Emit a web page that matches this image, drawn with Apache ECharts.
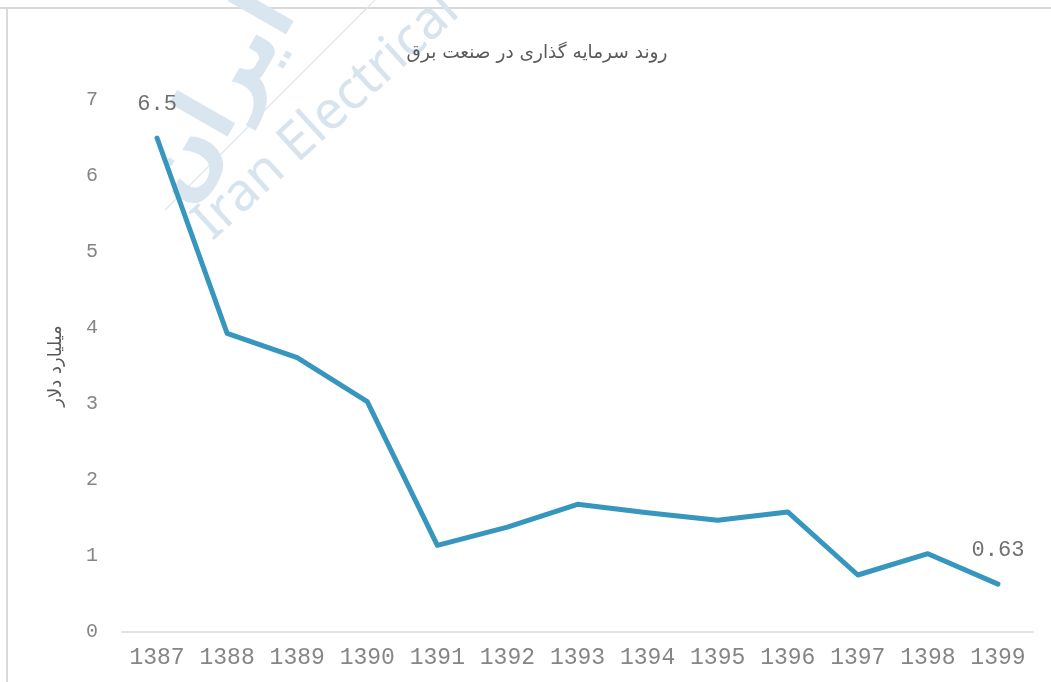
<!DOCTYPE html>
<html>
<head>
<meta charset="utf-8">
<script src="https://cdn.jsdelivr.net/npm/echarts@6/dist/echarts.min.js"></script>
<style>
html,body{margin:0;padding:0;background:#fff;}
#c{width:1051px;height:682px;}
</style>
</head>
<body>
<div id="c"></div>
<script>
const categories = ['1387','1388','1389','1390','1391','1392','1393','1394','1395','1396','1397','1398','1399'];
const values = [6.5, 3.93, 3.61, 3.03, 1.14, 1.38, 1.68, 1.57, 1.47, 1.58, 0.75, 1.03, 0.63];
const labelledIdx = [0, 12];
const titleText = 'روند سرمایه گذاری در صنعت برق';
const yName = 'میلیارد دلار';

const chart = echarts.init(document.getElementById('c'));
const mono = 'Liberation Mono';
const seriesData = values.map((v, i) => ({
  value: v,
  label: { show: labelledIdx.includes(i) }
}));

chart.setOption({
  backgroundColor: '#ffffff',
  animation: false,
  grid: { left: 122, right: 18, top: 100, bottom: 50 },
  xAxis: {
    type: 'category',
    data: categories,
    boundaryGap: true,
    axisLine: { lineStyle: { color: '#d9d9d9', width: 1.5 } },
    axisTick: { show: false },
    axisLabel: { interval: 0, hideOverlap: false, fontFamily: mono, fontSize: 23, color: '#858585', margin: 14 }
  },
  yAxis: {
    type: 'value',
    min: 0, max: 7, interval: 1,
    name: yName,
    nameLocation: 'middle',
    nameGap: 57,
    nameTextStyle: { fontFamily: 'DejaVu Sans', fontSize: 18, color: '#595959' },
    axisLine: { show: false },
    axisTick: { show: false },
    splitLine: { show: false },
    axisLabel: { fontFamily: mono, fontSize: 20, color: '#858585', margin: 24 }
  },
  graphic: [
    { type: 'line', z: -10, shape: { x1: 0, y1: 8, x2: 1051, y2: 8 }, style: { stroke: '#d9d9d9', lineWidth: 2 } },
    { type: 'line', z: -10, shape: { x1: 7, y1: 8, x2: 7, y2: 682 }, style: { stroke: '#d9d9d9', lineWidth: 2 } },
    { type: 'line', z: -10, shape: { x1: 165, y1: 210, x2: 375, y2: 0 }, style: { stroke: '#dce7f0', lineWidth: 1.2 } },
    { type: 'text', z: -10, x: 220, y: 250, rotation: 0.74,
      style: { text: 'Iran Electrical', fontFamily: 'Noto Sans', fontSize: 53, fill: '#d7e4ee', textAlign: 'left', textVerticalAlign: 'bottom' } },
    { type: 'text', z: -10, x: 222, y: 100, rotation: 1.05,
      style: { text: 'ایران', fontFamily: 'DejaVu Sans', fontWeight: 'bold', fontSize: 88, fill: '#d9e5ef', textAlign: 'center', textVerticalAlign: 'middle' } },
    { type: 'text', z: 10, x: 537, y: 53,
      style: { text: titleText, fontFamily: 'DejaVu Sans', fontSize: 18.5, fill: '#595959', textAlign: 'center', textVerticalAlign: 'middle' } }
  ],
  series: [{
    type: 'line',
    data: seriesData,
    symbol: 'circle',
    symbolSize: 1,
    showSymbol: true,
    lineStyle: { color: '#3796be', width: 5, cap: 'round', join: 'round' },
    itemStyle: { color: '#3796be' },
    label: { position: 'top', distance: 22, fontFamily: mono, fontSize: 22, color: '#707070', formatter: p => String(p.value) }
  }]
});
</script>
</body>
</html>
